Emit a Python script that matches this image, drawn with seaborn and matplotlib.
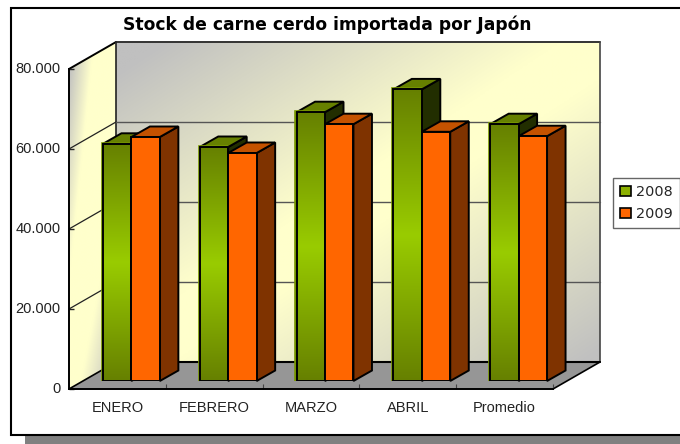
import numpy as np
import pandas as pd
import matplotlib
matplotlib.use("Agg")
import matplotlib.pyplot as plt
from matplotlib.patches import Polygon, Rectangle, Patch
from matplotlib.transforms import ScaledTranslation
import seaborn as sns

meses = ["ENERO", "FEBRERO", "MARZO", "ABRIL", "Promedio"]
stock_2008 = [59300, 58500, 67200, 72900, 64200]
stock_2009 = [61000, 57000, 64200, 62300, 61200]
y_ticks = [0, 20000, 40000, 60000, 80000]
y_labels = ["0", "20.000", "40.000", "60.000", "80.000"]
titulo = "Stock de carne cerdo importada por Japón"

W, H = 680, 444
sns.set_style("white")
plt.rcParams["font.family"] = ["Liberation Sans", "DejaVu Sans"]
fig = plt.figure(figsize=(W / 100, H / 100), dpi=100, facecolor="white")

def axes_px(x0, y0, x1, y1):
    """Axes from pixel box, y measured from the top of the picture."""
    return fig.add_axes([x0 / W, 1 - y1 / H, (x1 - x0) / W, (y1 - y0) / H])

# plot geometry in pixels
FX0, FX1, FY0, FY1 = 69, 553, 389, 69      # front plane of the box
DX, DY = 47, 27                            # box depth
BX, BY = 14, 8                             # bars' offset from the front plane
SX, SY = 18.5, 10.5                        # bar depth
GREY = np.array([0xC0, 0xC0, 0xC0]) / 255
CREAM = np.array([0xFF, 0xFF, 0xCC]) / 255

# ---------- background: frame, walls, floor
bg = fig.add_axes([0, 0, 1, 1])
bg.set_axis_off()
bg.add_patch(Rectangle((25, 434), W, 20, fc="#808080", ec="none"))
bg.add_patch(Rectangle((11, 8), W, 426.5, fc="white", ec="black", lw=1.5))

def wall(x0, x1, y0, y1, poly, shade):
    xs = np.linspace(x0, x1, 300)
    ys = np.linspace(y0, y1, 400)
    xx, yy = np.meshgrid(xs, ys)
    c = np.clip(shade(xx, yy), 0, 1)[..., None]
    img = CREAM + c * (GREY - CREAM)
    im = bg.imshow(img, extent=(x0, x1, y1, y0), aspect="auto", origin="upper",
                   interpolation="bilinear", zorder=1)
    pp = Polygon(poly, closed=True, fc="none", ec="none", transform=bg.transData)
    bg.add_patch(pp)
    im.set_clip_path(pp)

bxl, bxr = FX0 + DX, FX1 + DX
byt, byb = FY1 - DY, FY0 - DY

def shade_back(x, y):
    u, v = (x - bxl) / (bxr - bxl), (y - byt) / (byb - byt)
    s = u + v
    low = (0.92 - s) / 0.82
    high = (s - 1.12) / 0.85
    return np.maximum(low, high)

def shade_left(x, y):
    u = (x - FX0) / DX
    v = (y - (FY1 - DY * u)) / (FY0 - FY1)
    low = 1 - (2 * u + 1.5 * v)
    high = (2 * u + 3 * v - 3.5) / 1.6
    return np.maximum(low, high)

wall(bxl, bxr, byt, byb, [(bxl, byt), (bxr, byt), (bxr, byb), (bxl, byb)], shade_back)
wall(FX0, bxl, byt, FY0, [(FX0, FY1), (bxl, byt), (bxl, byb), (FX0, FY0)], shade_left)
bg.add_patch(Polygon([(FX0, FY0), (FX1, FY0), (bxr, byb), (bxl, byb)], closed=True,
                     fc="#969696", ec="none", zorder=2))
bg.plot([FX0, bxl], [FY1, byt], color="black", lw=1.4, zorder=3)
bg.plot([bxl, bxr], [byt, byt], color="#333333", lw=1.4, zorder=3)
bg.plot([bxl, bxl], [byt, byb], color="#222222", lw=1.2, zorder=3)
bg.plot([bxr, bxr], [byt, byb], color="#444444", lw=1.2, zorder=3)
bg.plot([bxl, bxr], [byb, byb], color="black", lw=1.5, zorder=3)
bg.plot([FX0, bxl], [FY0, byb], color="black", lw=1.2, zorder=3)
bg.plot([FX1, bxr], [FY0, byb], color="black", lw=1.2, zorder=3)
bg.set_xlim(0, W)
bg.set_ylim(H, 0)

# ---------- main axis: ticks, labels, grid
ax = axes_px(FX0, FY1, FX1, FY0)
ax.patch.set_alpha(0)
ax.set_xlim(-0.5, len(meses) - 0.5)
ax.set_ylim(y_ticks[0], y_ticks[-1])
ddx = DX / ((FX1 - FX0) / len(meses))
ddy = DY * (y_ticks[-1] - y_ticks[0]) / (FY0 - FY1)
for v in y_ticks[1:-1]:
    ax.plot([-0.5, -0.5 + ddx], [v, v + ddy], color="#222222", lw=0.9, clip_on=False, zorder=1)
    ax.plot([-0.5 + ddx, len(meses) - 0.5 + ddx], [v + ddy, v + ddy], color="#555555",
            lw=1.0, clip_on=False, zorder=1)
ax.set_yticks(y_ticks, y_labels)
ax.set_xticks(range(len(meses)), meses)
ax.set_xticks(np.arange(0.5, len(meses) - 1 + 0.6, 1.0), minor=True)
ax.tick_params(axis="y", which="major", left=True, length=3.5, width=1, direction="in",
               labelsize=10.5, labelcolor="#222222", pad=6)
ax.tick_params(axis="x", which="major", bottom=False, labelsize=10.5, labelcolor="#222222", pad=5.2)
ax.tick_params(axis="x", which="minor", bottom=True, length=3.5, width=0.8, direction="in",
               color="#444444")
for s in ("top", "right"):
    ax.spines[s].set_visible(False)
for s in ("left", "bottom"):
    ax.spines[s].set_color("black")
    ax.spines[s].set_linewidth(1.4)
lift = ScaledTranslation(0, 1.5 / 100, fig.dpi_scale_trans)
for lab in ax.get_yticklabels():
    lab.set_transform(lab.get_transform() + lift)

# ---------- bars
df = pd.DataFrame({
    "mes": meses * 2,
    "anio": ["2008"] * len(meses) + ["2009"] * len(meses),
    "stock": stock_2008 + stock_2009,
})
bar_ax = axes_px(FX0 + BX, FY1 - BY, FX1 + BX, FY0 - BY)
bar_ax.patch.set_alpha(0)
sns.barplot(data=df, x="mes", y="stock", hue="anio", palette=["#668000", "#FF6600"],
            order=meses, width=0.588, gap=0, saturation=1, edgecolor="black",
            linewidth=1.4, legend=False, ax=bar_ax)
bar_ax.set_xlim(-0.5, len(meses) - 0.5)
bar_ax.set_ylim(y_ticks[0], y_ticks[-1])
bar_ax.set_axis_off()

sdx = SX / ((FX1 - FX0) / len(meses))
sdy = SY * (y_ticks[-1] - y_ticks[0]) / (FY0 - FY1)
px_x = len(meses) / (FX1 - FX0)

grad = np.array([[0x66, 0x80, 0x00], [0x99, 0xCC, 0x00], [0x66, 0x80, 0x00]]) / 255
t = np.linspace(0, 1, 200)
grad_img = np.stack([np.interp(t, [0, .5, 1], grad[:, k]) for k in range(3)], axis=1)[:, None, :]

styles = [("#668000", "#222E00"), ("#C45200", "#7F3300")]
for s_i, cont in enumerate(bar_ax.containers):
    top_c, side_c = styles[s_i]
    for c_i, b in enumerate(cont):
        z = 10 + c_i * 10 + s_i * 4
        x0, x1, h = b.get_x(), b.get_x() + b.get_width(), b.get_height()
        b.set_zorder(z + 3)
        bar_ax.add_patch(Polygon([(x1, 0), (x1, h), (x1 + sdx, h + sdy), (x1 + sdx, sdy)],
                                 closed=True, fc=side_c, ec="black", lw=1.4, zorder=z,
                                 clip_on=False))
        bar_ax.add_patch(Polygon([(x0, h), (x1, h), (x1 + sdx, h + sdy), (x0 + sdx, h + sdy)],
                                 closed=True, fc=top_c, ec="black", lw=1.4, zorder=z,
                                 clip_on=False))
        if s_i == 0:
            bar_ax.add_patch(Rectangle((x0 - 1.2 * px_x, 0), b.get_width(), h + 300, fc="#668000",
                                       ec="#7A9900", lw=1.2, zorder=z + 1))
            bar_ax.imshow(grad_img, extent=(x0, x1, 0, h), aspect="auto", origin="upper",
                          zorder=z + 2)
            b.set_facecolor("none")
bar_ax.set_xlim(-0.5, len(meses) - 0.5)
bar_ax.set_ylim(y_ticks[0], y_ticks[-1])

# ---------- title and legend
fig.text(327 / W, 1 - 25 / H, titulo, ha="center", va="center", fontsize=12.3,
         fontweight="bold", family="DejaVu Sans", color="black")
handles = [Patch(fc="#8CB000", ec="black", lw=1.2), Patch(fc="#FF6600", ec="black", lw=1.2)]
leg = fig.legend(handles, ["2008", "2009"], loc="upper left",
                 bbox_to_anchor=(612.5 / W, 1 - 178 / H), bbox_transform=fig.transFigure,
                 borderaxespad=0, fancybox=False, framealpha=1, edgecolor="#666666",
                 handlelength=0.75, handleheight=0.75, handletextpad=0.35, borderpad=0.5,
                 labelspacing=0.55, prop={"family": "DejaVu Sans", "size": 10.4})
leg.get_frame().set_linewidth(1.0)

fig.savefig("out.png", dpi=100)
